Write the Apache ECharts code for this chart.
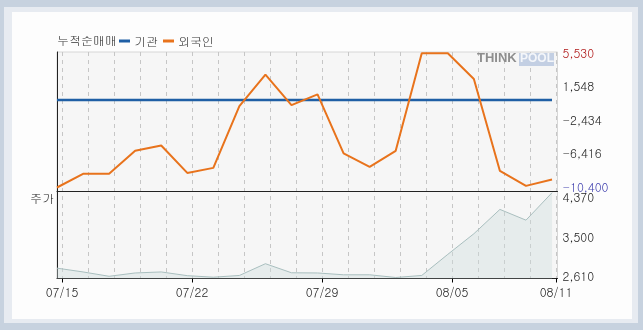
<!DOCTYPE html>
<html><head><meta charset="utf-8">
<script src="https://cdn.jsdelivr.net/npm/echarts@6/dist/echarts.min.js"></script>
<style>
html,body{margin:0;padding:0;width:643px;height:330px;overflow:hidden;background:#c7d2df;}
#light{position:absolute;left:4px;top:7px;width:634px;height:316px;background:#e7ebf1;}
#white{position:absolute;left:12px;top:12px;width:620px;height:307px;background:#fdfdfd;}
#chart{position:absolute;left:0;top:0;width:643px;height:330px;}
</style></head>
<body>
<div id="light"></div><div id="white"></div>
<div id="chart"></div>
<script>
const dates = ['07/15','07/16','07/17','07/18','07/21','07/22','07/23','07/24','07/25','07/28','07/29','07/30','07/31','08/01','08/04','08/05','08/06','08/07','08/08','08/11'];
const labelIdx = [0,5,10,15,19];
const institution = [0,0,0,0,0,0,0,0,0,0,0,0,0,0,0,0,0,0,0,0];
const foreign = [-10400,-8780,-8780,-6050,-5410,-8670,-8070,-740,3000,-620,660,-6360,-7950,-6050,5530,5530,2470,-8430,-10210,-9450];
const price = [2804,2725,2635,2704,2725,2648,2616,2652,2896,2708,2704,2666,2666,2610,2652,3090,3518,4023,3800,4370];
const netTicks = [5530,1548,-2434,-6416,-10400];
const priceTicks = [4370,3500,2610];

const FONT = 'Gulim, Dotum, "Noto Sans CJK KR", sans-serif';
const fmt = v => Math.round(v).toLocaleString('en-US');
const chart = echarts.init(document.getElementById('chart'), null, {renderer:'canvas'});
const showIdx = (i) => labelIdx.indexOf(i) >= 0;

chart.setOption({
  backgroundColor: 'transparent',
  animation: false,
  textStyle: {fontFamily: FONT},
  title: {text: '누적순매매', left: 52, top: 29, textStyle: {fontSize: 12, fontWeight: 'normal', color: '#333', fontFamily: FONT}},
  legend: {data: ['기관','외국인'], left: 114, top: 30, icon: 'rect', itemWidth: 11, itemHeight: 3, itemGap: 5,
    textStyle: {fontSize: 12, color: '#333', fontFamily: FONT, padding: [0,0,0,-1]}},
  grid: [
    {left: 57, top: 52, width: 500.5, height: 139.5, show: true, backgroundColor: '#f6f6f6', borderColor: '#d6d6d6', borderWidth: 1},
    {left: 57, top: 191.5, width: 500.5, height: 87, show: true, backgroundColor: '#f6f6f6', borderColor: '#d6d6d6', borderWidth: 1},
    {left: 62, top: 52, width: 494, height: 226.5}
  ],
  xAxis: [
    {gridIndex: 0, type: 'value', min: 0, max: 19.21, axisLine: {show: true, onZero: false, lineStyle: {color: '#222', width: 1}}, axisTick: {show: false}, axisLabel: {show: false}, splitLine: {show: false}},
    {gridIndex: 1, type: 'value', min: 0, max: 19.21, axisLine: {show: true, onZero: false, lineStyle: {color: '#222', width: 1}}, axisTick: {show: false}, axisLabel: {show: false}, splitLine: {show: false}},
    {gridIndex: 2, type: 'category', data: dates, boundaryGap: false,
      axisLine: {show: false},
      axisTick: {show: true, length: 4, interval: (i) => showIdx(i), lineStyle: {color: '#000'}},
      axisLabel: {interval: (i) => showIdx(i), margin: 8, color: '#222', fontSize: 12, fontFamily: FONT},
      splitLine: {show: true, interval: 0, lineStyle: {type: [4,4], color: '#c6c6c6', width: 1}}}
  ],
  yAxis: [
    {gridIndex: 0, type: 'value', position: 'right', min: -10875, max: 5684,
      axisLine: {show: true, lineStyle: {color: '#d6d6d6'}}, axisTick: {show: false}, splitLine: {show: false},
      axisLabel: {customValues: netTicks, margin: 5, fontSize: 12, fontFamily: FONT, formatter: fmt,
        color: (v) => (v == netTicks[0] ? '#b01818' : (v == netTicks[netTicks.length-1] ? '#4444b0' : '#222'))}},
    {gridIndex: 0, type: 'value', position: 'left', min: -10875, max: 5684,
      axisLine: {show: true, lineStyle: {color: '#222'}}, axisTick: {show: false}, splitLine: {show: false}, axisLabel: {show: false}},
    {gridIndex: 1, type: 'value', position: 'right', min: 2589, max: 4395,
      axisLine: {show: true, lineStyle: {color: '#d6d6d6'}}, axisTick: {show: false}, splitLine: {show: false},
      axisLabel: {customValues: priceTicks, margin: 5, fontSize: 12, fontFamily: FONT, color: '#222',
        formatter: (v) => (v == priceTicks[0] ? '{a|' : (v == priceTicks[2] ? '{c|' : '{b|')) + fmt(v) + '}',
        rich: {
          a: {fontSize: 12, fontFamily: FONT, color: '#222', padding: [9,0,0,0]},
          b: {fontSize: 12, fontFamily: FONT, color: '#222', padding: [6,0,0,0]},
          c: {fontSize: 12, fontFamily: FONT, color: '#222', padding: [0,0,3,0]}
        }}},
    {gridIndex: 1, type: 'value', position: 'left', min: 2589, max: 4395,
      axisLine: {show: true, lineStyle: {color: '#222'}}, axisTick: {show: false}, splitLine: {show: false}, axisLabel: {show: false}},
    {gridIndex: 2, type: 'value', show: false}
  ],
  series: [
    {name: '기관', type: 'line', xAxisIndex: 0, yAxisIndex: 0, data: institution.map((v,i) => [i,v]),
      symbol: 'none', color: '#1f5fa5', lineStyle: {color: '#1f5fa5', width: 2.5}},
    {name: '외국인', type: 'line', xAxisIndex: 0, yAxisIndex: 0, data: foreign.map((v,i) => [i,v]),
      symbol: 'none', color: '#e8731c', lineStyle: {color: '#e8731c', width: 2}},
    {name: '주가', type: 'line', xAxisIndex: 1, yAxisIndex: 2, data: price.map((v,i) => [i,v]),
      symbol: 'none', color: '#a8bebe', lineStyle: {color: '#a9bfbf', width: 1},
      areaStyle: {color: 'rgba(205,222,222,0.55)', origin: 'start'}, z: 1}
  ],
  graphic: [
    {type: 'text', left: 30, top: 192, style: {text: '주가', fontSize: 12, fill: '#222', fontFamily: FONT}},
    {type: 'rect', left: 519, top: 53, shape: {width: 35, height: 13}, style: {fill: '#c3cfe3'}, z: 5},
    {type: 'text', left: 477, top: 52, style: {text: 'THINK', fontSize: 13, fontWeight: 'bold', fill: '#8e8e8e', fontFamily: '"Liberation Sans", Arial, sans-serif'}, z: 6},
    {type: 'text', left: 520, top: 53, style: {text: 'POOL', fontSize: 12, fontWeight: 'bold', fill: '#f4f6fa', fontFamily: '"Liberation Sans", Arial, sans-serif'}, z: 6}
  ]
});
</script>
</body></html>
